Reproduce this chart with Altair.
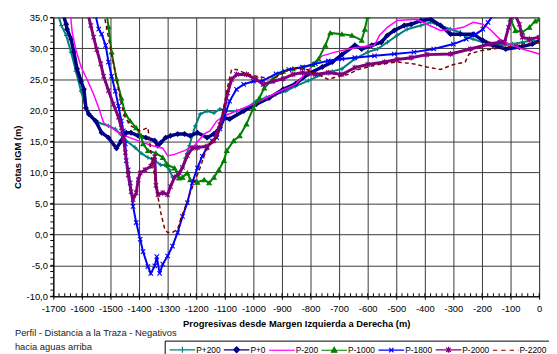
import altair as alt
import pandas as pd

# ---------------- data ----------------
names = ["P+200", "P+0", "P-200", "P-1000", "P-1800", "P-2000", "P-2200"]
colors = ["#008080", "#000080", "#FF00FF", "#008000", "#0000FF", "#800080", "#800000"]
line_widths = [2.0, 3.5, 1.5, 2.0, 2.0, 3.0, 1.5]

p200_x = [-1685, -1672, -1655, -1638, -1621, -1603, -1586, -1569, -1541, -1507, -1483, -1466, -1445, -1414,
          -1393, -1369, -1345, -1324, -1310, -1293, -1283, -1265, -1248, -1238, -1224, -1214, -1203, -1186,
          -1162, -1138, -1117, -1093, -1059, -1024, -990, -955, -921, -886, -852, -807, -759, -724, -690,
          -645, -600, -566, -531, -497, -462, -414, -379, -359, -310, -276, -255, -231, -197, -162, -128,
          -93, -59, -24, 0]
p200_y = [35.8, 33.7, 32.1, 29.4, 26.3, 23.1, 20.4, 19.1, 18.0, 17.5, 17.0, 16.2, 15.1, 14.0,
          13.1, 12.4, 11.9, 11.2, 11.2, 10.4, 9.2, 9.4, 10.8, 12.3, 14.3, 15.9, 17.5, 19.4,
          19.9, 19.6, 20.2, 19.9, 19.9, 20.4, 21.5, 22.1, 22.6, 23.1, 23.9, 24.8, 25.8, 26.3, 26.7,
          28.3, 29.4, 29.9, 31.0, 32.1, 33.1, 33.7, 34.2, 33.9, 33.1, 32.6, 31.8, 31.5, 31.0, 30.7, 30.5,
          30.7, 31.0, 31.3, 31.0]

p0_x = [-1668, -1655, -1652, -1638, -1628, -1617, -1603, -1593, -1586, -1576, -1552, -1531, -1507, -1479,
        -1462, -1445, -1428, -1403, -1376, -1345, -1334, -1324, -1307, -1290, -1265, -1241, -1221, -1196,
        -1162, -1138, -1117, -1103, -1083, -1034, -990, -945, -896, -852, -807, -759, -724, -690, -645,
        -621, -586, -552, -531, -507, -472, -448, -414, -379, -345, -310, -276, -231, -197, -162, -117,
        -69, -24, 0]
p0_y = [35.8, 33.9, 33.1, 31.5, 29.4, 26.7, 24.7, 23.4, 20.4, 19.4, 18.3, 16.4, 15.6, 13.9,
        15.1, 16.4, 16.4, 15.9, 15.6, 15.1, 14.3, 14.8, 15.6, 15.9, 16.2, 16.2, 15.9, 16.4,
        15.6, 16.2, 17.2, 18.8, 18.6, 19.9, 21.0, 22.0, 23.4, 24.3, 25.9, 27.0, 27.8, 29.0, 30.5,
        29.9, 30.5, 31.0, 32.1, 32.9, 33.7, 33.9, 34.5, 34.7, 33.7, 32.3, 32.3, 32.3, 31.3, 30.5, 29.9,
        30.2, 30.7, 31.2]

pm200_x = [-1640, -1634, -1621, -1603, -1583, -1559, -1541, -1524, -1497, -1466, -1421, -1386, -1352, -1317,
           -1300, -1276, -1241, -1207, -1172, -1152, -1128, -1103, -1059, -990, -921, -852, -807, -759,
           -714, -645, -576, -559, -531, -497, -428, -393, -345, -300, -266, -231, -197, -172, -138,
           -103, -59, -14, 0]
pm200_y = [35.5, 32.6, 29.8, 27.0, 25.1, 22.6, 20.4, 18.0, 17.2, 16.2, 15.4, 14.8, 14.3, 13.9,
           12.7, 12.9, 13.5, 14.3, 16.2, 16.7, 18.3, 19.1, 19.9, 21.2, 22.8, 24.2, 26.5, 28.8,
           29.4, 30.1, 30.5, 32.1, 33.4, 34.5, 34.7, 33.9, 32.9, 33.1, 33.4, 34.2, 33.9, 33.1, 31.5,
           30.7, 29.9, 29.3, 29.1]

pm1000_x = [-1514, -1507, -1496, -1479, -1462, -1448, -1431, -1410, -1393, -1386, -1369, -1341, -1317, -1300,
            -1276, -1259, -1248, -1231, -1221, -1196, -1172, -1155, -1138, -1121, -1103, -1093, -1069, -1048,
            -1024, -1000, -979, -962, -931, -896, -862, -828, -793, -772, -748, -731, -690, -655, -621,
            -610, -600, -110, -100, -83, -59, -34, -14, 0]
pm1000_y = [35.8, 33.5, 29.4, 25.1, 22.0, 19.4, 18.3, 17.2, 15.9, 14.6, 13.5, 13.1, 12.4, 11.2,
            10.7, 9.1, 9.2, 9.9, 8.8, 8.4, 8.8, 8.3, 9.2, 10.4, 11.9, 13.5, 15.1, 15.9,
            17.8, 20.4, 22.0, 23.6, 25.1, 26.3, 26.7, 26.9, 27.4, 28.3, 30.5, 32.5, 32.3, 32.1, 31.3,
            33.1, 35.2, 35.5, 34.7, 32.9, 32.6, 33.4, 34.4, 34.7]
pm1000_seg = [0] * 45 + [1] * 7   # the profile leaves the chart between -600 and -110

pm1800_x = [-1552, -1541, -1531, -1517, -1507, -1496, -1483, -1472, -1462, -1455, -1448, -1445, -1438, -1431,
            -1421, -1410, -1396, -1386, -1369, -1359, -1345, -1338, -1328, -1317, -1300, -1283, -1265, -1248,
            -1231, -1214, -1196, -1179, -1162, -1145, -1128, -1117, -1103, -1083, -1059, -1034, -1000, -966,
            -921, -876, -828, -783, -738, -690, -645, -576, -507, -438, -369, -300, -255, -221, -197,
            -179, -162]
pm1800_y = [35.3, 33.1, 32.3, 30.5, 27.8, 25.5, 23.1, 20.7, 18.3, 16.7, 14.6, 11.9, 10.4, 8.3,
            4.5, 1.9, -0.8, -2.8, -5.2, -6.3, -5.1, -3.6, -6.3, -4.8, -3.5, -1.9, 0.3, 2.9,
            5.1, 8.3, 10.7, 12.6, 14.0, 15.1, 15.6, 17.0, 18.8, 21.5, 23.4, 24.2, 24.7, 24.8,
            25.9, 26.6, 27.0, 27.5, 28.0, 28.3, 28.5, 28.8, 29.1, 29.4, 29.9, 30.7, 31.5, 32.3, 33.1,
            34.2, 35.3]

pm2000_x = [-1580, -1569, -1559, -1548, -1534, -1524, -1507, -1490, -1472, -1462, -1455, -1448, -1438, -1428,
            -1421, -1410, -1403, -1396, -1379, -1359, -1345, -1341, -1334, -1317, -1300, -1290, -1276, -1259,
            -1248, -1231, -1214, -1196, -1162, -1138, -1128, -1117, -1103, -1090, -1076, -1059, -1024, -990,
            -966, -931, -896, -862, -828, -783, -738, -690, -645, -600, -541, -497, -448, -393, -310,
            -241, -172, -138, -121, -107, -97, -83, -69, -59, -34, 0]
pm2000_y = [35.8, 33.7, 31.8, 29.8, 27.5, 25.5, 23.2, 21.0, 18.9, 17.2, 15.6, 13.2, 9.6, 6.9,
            5.6, 6.7, 8.8, 9.9, 10.4, 11.0, 12.5, 7.9, 6.4, 6.7, 6.4, 7.7, 9.2, 9.9,
            10.8, 12.7, 13.9, 14.0, 14.2, 15.1, 16.2, 17.7, 19.9, 22.8, 25.0, 25.8, 25.8, 25.0,
            24.2, 24.7, 25.1, 25.8, 26.1, 25.8, 26.1, 25.8, 26.9, 27.4, 27.8, 28.2, 28.5, 29.0, 29.1,
            29.9, 30.7, 31.0, 31.0, 33.4, 35.0, 35.3, 33.9, 31.8, 31.5, 31.8]

pm2200_x = [-1524, -1507, -1496, -1479, -1462, -1448, -1428, -1396, -1369, -1359, -1345, -1334, -1324, -1310,
            -1300, -1283, -1265, -1255, -1238, -1221, -1203, -1186, -1169, -1152, -1128, -1110, -1100, -1086,
            -1076, -1059, -1034, -1000, -966, -921, -876, -828, -783, -738, -703, -669, -634, -600,
            -552, -497, -438, -393, -345, -300, -259, -245, -207, -162, -117, -59, 0]
pm2200_y = [35.8, 31.8, 29.0, 25.1, 21.0, 18.8, 17.5, 16.7, 17.2, 13.5, 9.2, 6.1, 3.5, 0.8,
            0.3, 0.3, 0.8, 2.4, 4.5, 6.7, 8.8, 10.8, 13.1, 14.6, 15.6, 18.8, 21.5, 24.7,
            26.6, 26.6, 26.1, 25.6, 25.3, 25.3, 26.6, 26.9, 26.0, 25.0, 25.5, 25.8, 26.6, 27.0,
            27.5, 27.8, 27.5, 27.0, 26.6, 27.4, 27.8, 29.1, 29.6, 29.9, 30.2, 30.7, 31.0]

x_ticks = list(range(-1700, 1, 100))
y_ticks = list(range(-10, 36, 5))
x_minor = list(range(-1700, 1, 20))
y_minor = list(range(-10, 36, 1))

footnote = ["Perfil - Distancia a la Traza - Negativos", "hacia aguas arriba"]

# ---------------- build table ----------------
series_x = [p200_x, p0_x, pm200_x, pm1000_x, pm1800_x, pm2000_x, pm2200_x]
series_y = [p200_y, p0_y, pm200_y, pm1000_y, pm1800_y, pm2000_y, pm2200_y]
rows = []
for name, xs, ys in zip(names, series_x, series_y):
    assert len(xs) == len(ys), name
    for i, (xv, yv) in enumerate(zip(xs, ys)):
        seg = pm1000_seg[i] if name == "P-1000" else 0
        rows.append({"series": name, "idx": i, "seg": seg, "x": xv, "y": yv})
df = pd.DataFrame(rows)
assert len(pm1000_seg) == len(pm1000_x)

# ---------------- styles ----------------
FONT = "Liberation Sans"
marker_shapes = ["M-1,0L1,0M0,-1L0,1", "diamond", None, "triangle-up",
                 "M-1,-1L1,1M-1,1L1,-1", "M-1,-1L1,1M-1,1L1,-1M0,-1.3L0,1.3", None]
marker_filled = [False, True, False, True, False, False, False]
# legend glyphs: a 26 px line with the marker in the middle (unit = 5 px at symbolSize 100)
legend_shapes = [
    "M-2.6,0L2.6,0M0,-0.6L0,0.6",
    "M-2.6,0L2.6,0M0,-0.6L0.6,0L0,0.6L-0.6,0Z",
    "M-2.6,0L2.6,0",
    "M-2.6,0L2.6,0M0,-0.6L0.55,0.4L-0.55,0.4Z",
    "M-2.6,0L2.6,0M-0.45,-0.45L0.45,0.45M-0.45,0.45L0.45,-0.45",
    "M-2.6,0L2.6,0M-0.45,-0.45L0.45,0.45M-0.45,0.45L0.45,-0.45M0,-0.6L0,0.6",
    "M-2.6,0L-1.7,0M-0.9,0L0.0,0M0.8,0L1.7,0M2.5,0L2.6,0",
]

xscale = alt.Scale(domain=[-1700, 0], nice=False, zero=False, padding=0)
yscale = alt.Scale(domain=[-10, 35], nice=False, zero=False, padding=0)

x_axis = alt.Axis(values=x_ticks, labelExpr="'' + datum.value",
                  title="Progresivas desde Margen Izquierda a Derecha (m)",
                  grid=True, tickSize=3, labelPadding=4, titlePadding=6,
                  labelFontSize=9.5, titleFontSize=9.5, titleFontWeight="bold",
                  labelFlush=False)
y_axis = alt.Axis(values=y_ticks,
                  labelExpr="(datum.value < 0 ? '-' : '') + replace(format(abs(datum.value), '.1f'), '.', ',')",
                  title="Cotas IGM (m)", grid=True, tickSize=4, labelPadding=2, titlePadding=4,
                  labelFontSize=9.5, titleFontSize=9.5, titleFontWeight="bold")

leg = alt.Legend(title=None, orient="none", legendX=113, legendY=328, direction="horizontal",
                 columns=7, symbolSize=100, symbolStrokeWidth=1.2, symbolOffset=9,
                 labelFontSize=8.5, labelFont=FONT, labelColor="black", labelOffset=8,
                 columnPadding=0, padding=3, strokeColor="black", fillColor="white",
                 symbolOpacity=1)


def X(field):
    return alt.X(field, scale=xscale, axis=x_axis)


def Y(field):
    return alt.Y(field, scale=yscale, axis=y_axis)


base = alt.Chart(df)
layers = []

for name, c, w, shp, filled in zip(names, colors, line_widths, marker_shapes, marker_filled):
    sub = base.transform_filter(alt.datum.series == name)
    mk = dict(color=c, strokeWidth=w, clip=True)
    if name == "P-2200":
        mk["strokeDash"] = [4, 3]
    layers.append(sub.mark_line(**mk).encode(x=X("x:Q"), y=Y("y:Q"), order="idx:Q", detail="seg:N"))
    if shp is not None:
        pk = dict(shape=shp, size=20, strokeWidth=1.1, opacity=1, clip=True, color=c)
        if filled:
            pk.update(filled=True, stroke=c)
        else:
            pk.update(filled=False)
        layers.append(sub.mark_point(**pk).encode(x=X("x:Q"), y=Y("y:Q")))

xminor_df = pd.DataFrame({"x": x_minor, "y": [-10] * len(x_minor)})
yminor_df = pd.DataFrame({"y": y_minor, "x": [-1700] * len(y_minor)})
layers.append(alt.Chart(xminor_df).mark_tick(orient="vertical", size=3, thickness=1, color="black",
                                             opacity=1, yOffset=-1.5).encode(x=X("x:Q"), y=Y("y:Q")))
layers.append(alt.Chart(yminor_df).mark_tick(orient="horizontal", size=3, thickness=1, color="black",
                                             opacity=1, xOffset=-1.5).encode(x=X("x:Q"), y=Y("y:Q")))

legend_layer = base.transform_filter("false").mark_point(filled=False, opacity=1).encode(
    x=X("x:Q"), y=Y("y:Q"),
    color=alt.Color("series:N", scale=alt.Scale(domain=names, range=colors), legend=leg),
    fill=alt.Fill("series:N", scale=alt.Scale(domain=names, range=colors), legend=leg),
    shape=alt.Shape("series:N", scale=alt.Scale(domain=names, range=legend_shapes), legend=leg),
)
layers.append(legend_layer)

chart = alt.layer(*layers).properties(
    width=493, height=283,
    padding={"left": 46, "top": 7, "right": 10, "bottom": 56},
    autosize=alt.AutoSizeParams(type="none"),
    title=alt.TitleParams(text=footnote, orient="bottom", anchor="start", frame="group",
                          dx=-39, offset=-31, fontSize=9.5, fontWeight="normal", font=FONT,
                          color="#222222", lineHeight=14),
).configure(font=FONT).configure_view(stroke="#808080", strokeWidth=1).configure_axis(
    labelFont=FONT, titleFont=FONT, labelColor="black", titleColor="black",
    domainColor="black", tickColor="black", gridColor="#3a3a3a", gridWidth=1, gridOpacity=1,
)

chart.save("out.html", embed_options={"renderer": "svg", "actions": False})
